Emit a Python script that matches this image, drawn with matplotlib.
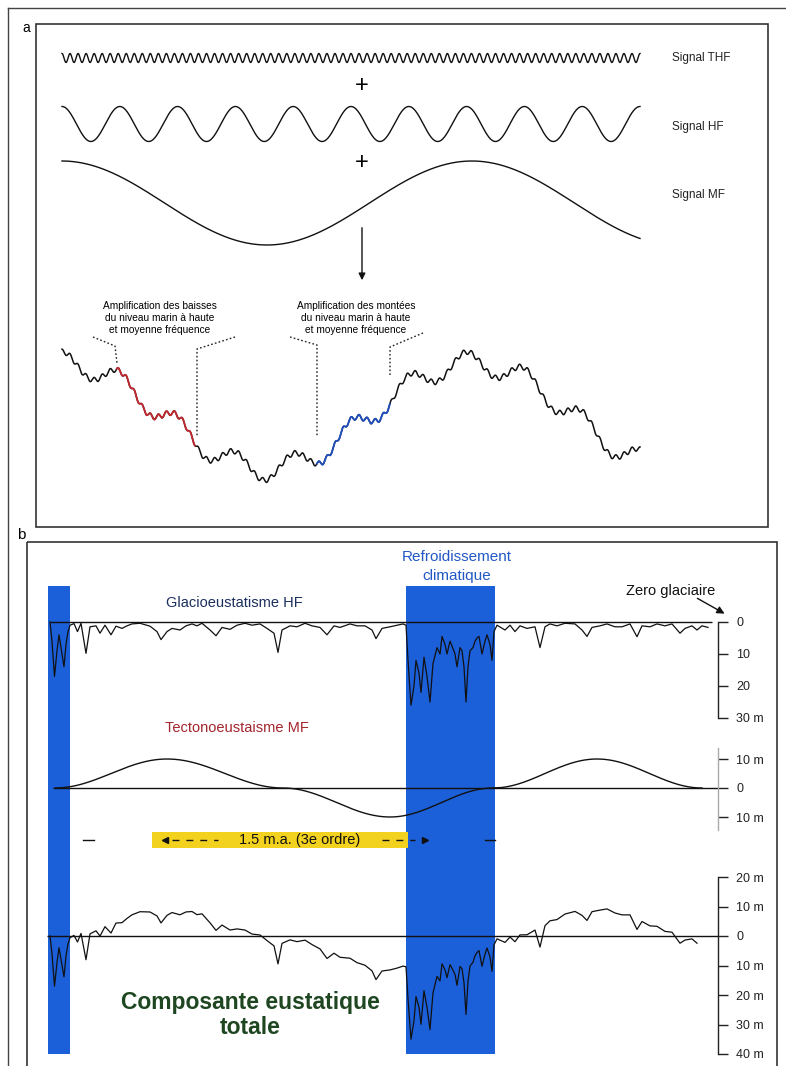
import numpy as np
import matplotlib
matplotlib.use("Agg")
import matplotlib.pyplot as plt
from matplotlib.patches import Rectangle

W, H = 786, 1066
plt.rcParams['font.family'] = ['Liberation Sans', 'DejaVu Sans']

# ---------------- Panel a : idealised signals ----------------
signal_names = ["Signal THF", "Signal HF", "Signal MF"]
signal_cycles = [72, 10, 1.41]          # cycles over the section
signal_amplitudes = [4.5, 17.5, 42]     # drawn amplitude of each signal
composite_weights = [2.5, 11.3, 53]     # share of each signal in the summed curve
highlight_drop = (0.095, 0.230)         # amplified falls (red)
highlight_rise = (0.441, 0.567)         # amplified rises (blue)
note_drop = "Amplification des baisses\ndu niveau marin à haute\net moyenne fréquence"
note_rise = "Amplification des montées\ndu niveau marin à haute\net moyenne fréquence"

# ---------------- Panel b : eustatic components ----------------
glacio_time = [50, 52, 54.5, 57, 59, 61.5, 64, 66, 68, 70,
               74, 77.5, 81, 86, 90, 96, 100, 105, 111, 116, 122, 127, 132, 140,
               150, 157, 161, 167, 172, 180, 186, 192, 197, 202, 210, 216, 222,
               230, 237, 245, 252, 260, 267, 274, 278, 282, 290, 297, 305, 312,
               320, 327, 334, 340, 350, 357, 365, 372, 376, 382, 390, 397, 403,
               406, 408, 411, 414, 416, 419, 421, 424, 427, 430, 433, 437, 440,
               442, 445, 447, 450, 452, 455, 457, 460, 462, 464, 466, 468, 470,
               473, 475, 477, 479, 482, 485, 487, 490, 492, 494, 497,
               505, 510, 515, 520, 527, 535, 540, 545, 550, 557, 565, 575, 582,
               587, 592, 600, 607, 615, 622, 630, 637, 642, 650, 657, 665, 672,
               680, 685, 692, 697, 702, 708]
glacio_level = [0, -6, -17, -9, -4, -9, -14, -7, -3, -1,
                 -0.5, -3, -0.4, -9.8, -1.5, -1.2, -3.5, -1, -4, -1.3, -2, -1.2, -0.6, -0.4,
                 -1.3, -3, -5.5, -3, -2, -2.5, -1.2, -0.6, -1.2, -0.4, -2.5, -4.3, -1.7,
                 -2.3, -1, -0.4, -1, -0.6, -2, -3.5, -9.5, -2.5, -1.2, -1.5, -0.4, -1.2,
                 -1.7, -4, -1.2, -1.7, -0.6, -1.2, -1.2, -2.5, -5.2, -2, -1.5, -1, -0.6,
                 -1, -12, -26, -20, -12, -16, -22, -11, -17, -25, -13, -8, -10,
                 -4.5, -7, -10, -6, -7.5, -10, -14, -8, -9, -14, -25, -14, -9,
                 -8, -6, -5, -4.5, -10, -6, -4, -7, -12, -3, -1,
                 -2.5, -1, -3, -1.2, -2, -1.5, -8, -1.5, -0.6, -1.2, -0.4, -0.6, -2.5,
                 -4.5, -1.7, -1.2, -0.6, -1.5, -1.5, -0.6, -4.6, -1.2, -1.5, -0.6, -1.2, -0.6,
                 -3.5, -2, -1.2, -2.5, -1.2, -1.7]
tecto_time = [55, 167, 283, 390, 493, 597, 702]
tecto_level = [0, 10, 0, -10, 0, 10, 0]
cold_periods = [(48, 70), (406, 495)]
glacio_ticks = [0, -10, -20, -30]
glacio_ticklabels = ["0", "10", "20", "30 m"]
tecto_ticks = [10, 0, -10]
tecto_ticklabels = ["10 m", "0", "10 m"]
total_ticks = [20, 10, 0, -10, -20, -30, -40]
total_ticklabels = ["20 m", "10 m", "0", "10 m", "20 m", "30 m", "40 m"]

BLUE = '#1b5fd9'
fig = plt.figure(figsize=(W / 100, H / 100), dpi=100)
fig.patch.set_facecolor('white')


def px_axes(x0, y0, x1, y1):
    ax = fig.add_axes([x0 / W, 1 - y1 / H, (x1 - x0) / W, (y1 - y0) / H])
    ax.patch.set_alpha(0)
    for s in ax.spines.values():
        s.set_visible(False)
    ax.set_xticks([])
    ax.set_yticks([])
    return ax


def eased(xk, vk, x):
    xk = np.asarray(xk, float)
    vk = np.asarray(vk, float)
    x = np.asarray(x, float)
    i = np.clip(np.searchsorted(xk, x) - 1, 0, len(xk) - 2)
    s = np.clip((x - xk[i]) / (xk[i + 1] - xk[i]), 0, 1)
    return vk[i] + (vk[i + 1] - vk[i]) * (1 - np.cos(np.pi * s)) / 2


# ---------- panel a rows ----------
t = np.linspace(0, 1, 5000)
waves = [np.cos(2 * np.pi * c * t) for c in signal_cycles]
row_geom = [(58, 10), (124, 24), (203, 48)]   # centre, half height (px)
for w, amp, (yc, hh) in zip(waves, signal_amplitudes, row_geom):
    ax = px_axes(62, yc - hh, 640, yc + hh)
    ax.set_xlim(0, 1)
    ax.set_ylim(-hh, hh)
    ax.plot(t, amp * w, color='#111111', lw=1.0, clip_on=False)

composite = sum(wt * w for wt, w in zip(composite_weights, waves))
axc = px_axes(62, 330, 640, 500)
axc.set_xlim(0, 1)
axc.set_ylim(416 - 500, 416 - 330)
axc.plot(t, composite, color='#111111', lw=1.1, clip_on=False)
for (a, b), col in [(highlight_drop, '#c1272d'), (highlight_rise, '#1f4fbf')]:
    m = (t >= a) & (t <= b)
    axc.plot(t[m], composite[m], color=col, lw=1.3, clip_on=False)

# ---------- panel b ----------
bg = px_axes(27, 542, 718, 1066)
bg.set_xlim(27, 718)
bg.set_ylim(1066, 542)
for a, b in cold_periods:
    bg.add_patch(Rectangle((a, 586), b - a, 1054 - 586, color=BLUE, lw=0))

gt = np.array(glacio_time, float)
gl = np.array(glacio_level, float)
tecto_x = np.linspace(tecto_time[0], tecto_time[-1], 800)
tecto_y = eased(tecto_time, tecto_level, tecto_x)
total_mask = gt <= 700
total_t = gt[total_mask]
total_y = gl[total_mask] + eased(tecto_time, tecto_level, total_t) * (total_t >= tecto_time[0])


def right_scale(ax, ticks, labels, lo, hi, spine_color):
    sp = ax.spines['right']
    sp.set_visible(True)
    sp.set_bounds(lo, hi)
    sp.set_color(spine_color)
    sp.set_linewidth(1.0)
    ax.yaxis.tick_right()
    ax.set_yticks(ticks)
    ax.set_yticklabels(labels)
    ax.tick_params(axis='y', direction='out', length=7, width=1.0, pad=6,
                   labelsize=9, color='#222222', labelcolor='#222222')


ax_g = px_axes(27, 598, 718, 722)
ax_g.set_xlim(27, 718)
ax_g.set_ylim(-(722 - 622) / 3.2, (622 - 598) / 3.2)
ax_g.hlines(0, 50, 712, color='#111111', lw=1.0)
ax_g.plot(gt, gl, color='#111111', lw=0.9, clip_on=False)
right_scale(ax_g, glacio_ticks, glacio_ticklabels, -30, 0, '#222222')

ax_t = px_axes(27, 740, 718, 840)
ax_t.set_xlim(27, 718)
ax_t.set_ylim(-(840 - 788) / 2.9, (788 - 740) / 2.9)
ax_t.hlines(0, 53, 718, color='#111111', lw=1.0)
ax_t.plot(tecto_x, tecto_y, color='#111111', lw=1.0)
right_scale(ax_t, tecto_ticks, tecto_ticklabels, -14.5, 13.8, '#aaaaaa')

ax_s = px_axes(27, 860, 718, 1062)
ax_s.set_xlim(27, 718)
ax_s.set_ylim(-(1062 - 936) / 2.95, (936 - 860) / 2.95)
ax_s.hlines(0, 47, 718, color='#111111', lw=1.0)
ax_s.plot(total_t, total_y, color='#111111', lw=0.9, clip_on=False)
right_scale(ax_s, total_ticks, total_ticklabels, -40, 20, '#222222')

# ---------- overlay: frames, labels, annotations ----------
ov = fig.add_axes([0, 0, 1, 1])
ov.set_xlim(0, W)
ov.set_ylim(H, 0)
ov.axis('off')
ov.patch.set_alpha(0)

ov.plot([8, 8], [8, H], color='#444444', lw=1.0)
ov.plot([8, W], [8, 8], color='#444444', lw=1.0)
ov.add_patch(Rectangle((36, 24), 732, 503, fill=False, ec='#333333', lw=1.2))
ov.add_patch(Rectangle((27, 542), 750, 600, fill=False, ec='#333333', lw=1.2))
ov.text(26, 28, "a", fontsize=10, ha='center', va='center')
ov.text(21, 535, "b", fontsize=11, ha='center', va='center')

for name, yc in zip(signal_names, [58, 127, 195]):
    ov.text(672, yc, name, fontsize=8.5, ha='left', va='center', color='#222222')
for yp in [86, 163]:
    ov.text(362, yp, "+", fontsize=17, ha='center', va='center')
ov.annotate('', xy=(362, 283), xytext=(362, 225),
            arrowprops=dict(arrowstyle='-|>', color='#111111', lw=1.0, mutation_scale=10))

ov.text(160, 318, note_drop, fontsize=7.3, ha='center', va='center', linespacing=1.25)
ov.text(356, 318, note_rise, fontsize=7.3, ha='center', va='center', linespacing=1.25)
dot = dict(color='#222222', lw=1.0, ls=(0, (1.2, 1.6)))
ov.plot([93, 115, 117], [337, 346, 363], **dot)
ov.plot([235, 197, 197], [337, 349, 436], **dot)
ov.plot([290, 317, 317], [337, 345, 437], **dot)
ov.plot([423, 390, 390], [333, 347, 375], **dot)

ov.text(457, 557, "Refroidissement", fontsize=11, ha='center', va='center', color='#2158c4')
ov.text(457, 576, "climatique", fontsize=11, ha='center', va='center', color='#2158c4')
ov.text(671, 591, "Zero glaciaire", fontsize=10.5, ha='center', va='center', color='#111111')
ov.annotate('', xy=(727, 615), xytext=(695, 597),
            arrowprops=dict(arrowstyle='-|>', color='#111111', lw=1.0, mutation_scale=11))
ov.text(234, 603, "Glacioeustatisme HF", fontsize=10.5, ha='center', va='center', color='#1b2f5e')
ov.text(237, 728, "Tectonoeustaisme MF", fontsize=10.5, ha='center', va='center', color='#a3262d')

ov.add_patch(Rectangle((152, 832), 256, 16, color='#f3d21f', lw=0))
ov.text(300, 840, "1.5 m.a. (3e ordre)", fontsize=10.5, ha='center', va='center', color='#111111')
ov.plot([172, 218], [840, 840], color='#111111', lw=1.0, ls=(0, (5, 5)))
ov.plot([382, 415], [840, 840], color='#111111', lw=1.0, ls=(0, (5, 5)))
ov.plot([165], [840], marker='<', ms=5, color='#111111')
ov.plot([425], [840], marker='>', ms=5, color='#111111')
ov.plot([83, 94], [840, 840], color='#111111', lw=1.0)
ov.plot([485, 495], [840, 840], color='#111111', lw=1.0)

for line, yp in [("Composante eustatique", 1002), ("totale", 1028)]:
    ov.text(250, yp, line, fontsize=16.5, fontweight='bold', ha='center', va='center',
            color='#1e4620', family=['Liberation Sans Narrow', 'Liberation Sans', 'DejaVu Sans'])

fig.savefig("out.png", dpi=100)
